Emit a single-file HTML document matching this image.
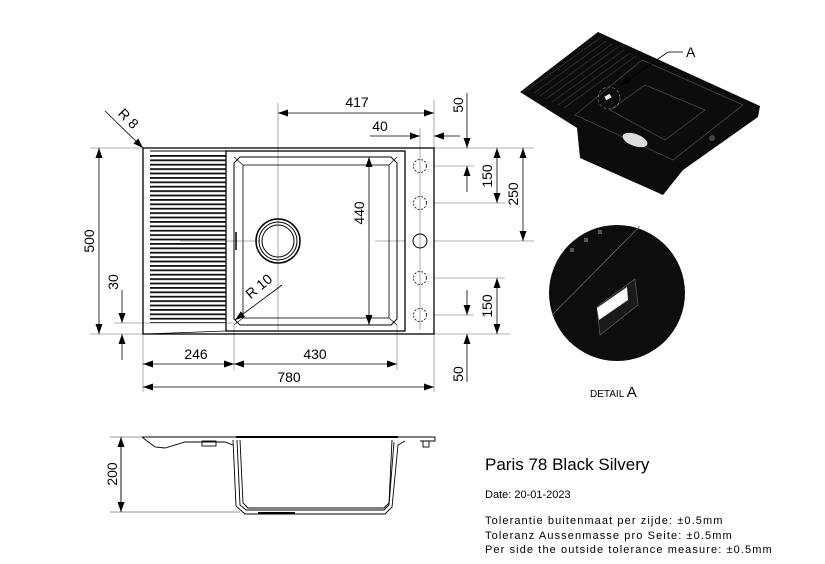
<!DOCTYPE html>
<html><head><meta charset="utf-8"><style>
html,body{margin:0;padding:0;background:#fff;}
svg{display:block;font-family:"Liberation Sans",sans-serif;}
</style></head><body>
<svg width="825" height="564" viewBox="0 0 825 564" xmlns="http://www.w3.org/2000/svg">
<defs>
<pattern id="gr" x="0" y="155" width="10" height="4.4" patternUnits="userSpaceOnUse">
<rect x="0" y="0" width="10" height="1.8" fill="#111"/>
</pattern>
<marker id="ar" viewBox="0 0 10 10" refX="10" refY="5" markerWidth="10" markerHeight="10" markerUnits="userSpaceOnUse" orient="auto-start-reverse">
<path d="M0,1.5 L10,5 L0,8.5 Z" fill="#000"/>
</marker>
</defs>

<g stroke="#999" stroke-width="0.8" fill="none">
<line x1="90" y1="148" x2="534" y2="148"/>
<line x1="90" y1="334" x2="510" y2="334"/>
<line x1="143" y1="334" x2="143" y2="392"/>
<line x1="434" y1="100" x2="434" y2="392"/>
<line x1="278" y1="103" x2="278" y2="330"/>
<line x1="234" y1="325" x2="234" y2="370"/>
<line x1="397" y1="325" x2="397" y2="370"/>
<line x1="420" y1="128" x2="420" y2="330"/>
<line x1="434" y1="203" x2="505" y2="203"/>
<line x1="434" y1="241" x2="534" y2="241"/>
<line x1="434" y1="278" x2="505" y2="278"/>
<line x1="434" y1="166" x2="474" y2="166"/>
<line x1="434" y1="315" x2="474" y2="315"/>
<line x1="114" y1="323" x2="234" y2="323"/>
<line x1="180" y1="241" x2="260" y2="241"/>
<line x1="375" y1="241" x2="405" y2="241"/>
</g>

<g fill="none" stroke="#000">
<rect x="143" y="148" width="291" height="186" stroke-width="1.3"/>
<rect x="150" y="155" width="76" height="168" fill="url(#gr)" stroke="none"/>
<line x1="226" y1="151" x2="226" y2="331" stroke-width="1"/>
<line x1="150" y1="151" x2="226" y2="151" stroke-width="1"/>
<line x1="145" y1="334" x2="226" y2="331" stroke-width="0.8"/>
<rect x="226" y="151" width="179" height="180" stroke-width="1.3"/>
<path d="M240,157 H391 L397,163 V319 L391,325 H240 L234,319 V163 Z" stroke-width="1"/>
<rect x="243" y="165" width="146" height="153" stroke-width="0.8"/>
<line x1="234" y1="157" x2="243" y2="165" stroke-width="0.6"/>
<line x1="397" y1="157" x2="389" y2="165" stroke-width="0.6"/>
<line x1="397" y1="325" x2="389" y2="318" stroke-width="0.6"/>
<line x1="234" y1="325" x2="243" y2="318" stroke-width="0.6"/>
<line x1="236" y1="232" x2="236" y2="250" stroke-width="1.5"/>
<circle cx="278" cy="241" r="22" stroke-width="1.5"/>
<circle cx="278" cy="241" r="19" stroke-width="1"/>
<circle cx="278" cy="241" r="16" stroke-width="1"/>
<circle cx="420" cy="241" r="7" stroke-width="1"/>
<g stroke-dasharray="2,1.5" stroke-width="0.8">
<circle cx="420" cy="166" r="6.5"/><circle cx="420" cy="203" r="6.5"/>
<circle cx="420" cy="278" r="6.5"/><circle cx="420" cy="315" r="6.5"/>
</g>
</g>

<g stroke="#000" stroke-width="0.8" fill="none">
<line x1="278" y1="113" x2="434" y2="113" marker-start="url(#ar)" marker-end="url(#ar)"/>
<line x1="370" y1="136" x2="420" y2="136" marker-end="url(#ar)"/>
<line x1="460" y1="136" x2="434" y2="136" marker-end="url(#ar)"/>
<line x1="467" y1="93" x2="467" y2="148" marker-end="url(#ar)"/>
<line x1="467" y1="192" x2="467" y2="166" marker-end="url(#ar)"/>
<line x1="497" y1="148" x2="497" y2="203" marker-start="url(#ar)" marker-end="url(#ar)"/>
<line x1="523" y1="148" x2="523" y2="241" marker-start="url(#ar)" marker-end="url(#ar)"/>
<line x1="99" y1="148" x2="99" y2="334" marker-start="url(#ar)" marker-end="url(#ar)"/>
<line x1="122" y1="290" x2="122" y2="323" marker-end="url(#ar)"/>
<line x1="122" y1="360" x2="122" y2="334" marker-end="url(#ar)"/>
<line x1="497" y1="278" x2="497" y2="334" marker-start="url(#ar)" marker-end="url(#ar)"/>
<line x1="467" y1="290" x2="467" y2="315" marker-end="url(#ar)"/>
<line x1="467" y1="382" x2="467" y2="334" marker-end="url(#ar)"/>
<line x1="143" y1="364" x2="234" y2="364" marker-start="url(#ar)" marker-end="url(#ar)"/>
<line x1="234" y1="364" x2="397" y2="364" marker-start="url(#ar)" marker-end="url(#ar)"/>
<line x1="143" y1="387" x2="434" y2="387" marker-start="url(#ar)" marker-end="url(#ar)"/>
<line x1="369" y1="157" x2="369" y2="325" marker-start="url(#ar)" marker-end="url(#ar)"/>
<line x1="105" y1="111" x2="143" y2="148" marker-end="url(#ar)"/>
<line x1="282" y1="285" x2="235" y2="320" marker-end="url(#ar)"/>
</g>

<g font-size="14" fill="#000" text-anchor="middle">
<text x="357" y="107">417</text>
<text x="380" y="131">40</text>
<text x="196" y="359">246</text>
<text x="315" y="359">430</text>
<text x="289" y="382">780</text>
<text transform="translate(463,105) rotate(-90)">50</text>
<text transform="translate(492,176) rotate(-90)">150</text>
<text transform="translate(518,194) rotate(-90)">250</text>
<text transform="translate(94,241) rotate(-90)">500</text>
<text transform="translate(118,282) rotate(-90)">30</text>
<text transform="translate(492,306) rotate(-90)">150</text>
<text transform="translate(463,374) rotate(-90)">50</text>
<text transform="translate(364,213) rotate(-90)">440</text>
<text transform="translate(125,122) rotate(45)">R 8</text>
<text transform="translate(262,290) rotate(-40)">R 10</text>
<text transform="translate(117,474) rotate(-90)">200</text>
</g>

<g fill="none" stroke="#000" stroke-width="0.9">
<line x1="110" y1="437" x2="240" y2="437" stroke="#999"/>
<line x1="110" y1="512" x2="240" y2="512" stroke="#999"/>
<line x1="121" y1="437" x2="121" y2="512" marker-start="url(#ar)" marker-end="url(#ar)"/>
<path d="M142,437 H435 V441 H420 M142,437 L147,441 L155,447 L165,448 L185,442 H225 L233,445"/>
<line x1="236" y1="437" x2="398" y2="437" stroke-width="2"/>
<path d="M233,440 L236,506 L245,514 H385 L392,507 L398,445 L405,441"/>
<path d="M237,440 L240,505 L246,510 H384 L389,505 L394,442"/>
<path d="M240,440 L243,503 L248,508 H384 L389,503 L392,440"/>
<rect x="202" y="441" width="14" height="5"/>
<rect x="423" y="441" width="6" height="6"/>
<line x1="258" y1="513" x2="295" y2="513" stroke-width="2"/>
</g>

<g>
<polygon points="520,92 598,32 760,106 758,117 683,170 663,195 580,158 577,128" fill="#0c0c0c"/>
<g stroke="#3a3a3a" stroke-width="0.7">
<line x1="528" y1="90" x2="600" y2="38"/><line x1="534" y1="93" x2="606" y2="41"/>
<line x1="540" y1="96" x2="612" y2="44"/><line x1="546" y1="99" x2="618" y2="47"/>
<line x1="552" y1="102" x2="624" y2="50"/><line x1="558" y1="105" x2="630" y2="53"/>
<line x1="564" y1="108" x2="636" y2="56"/>
</g>
<g stroke="#444" stroke-width="0.8" fill="none">
<polygon points="575,115 642,60 743,105 673,160"/>
<polygon points="610,110 645,85 705,110 665,140"/>
</g>
<ellipse cx="635" cy="140" rx="13" ry="6" fill="#ddd" transform="rotate(20 635 140)"/>
<circle cx="712" cy="138" r="3" fill="#444"/>
<rect x="605" y="95" width="6" height="4" fill="#eee" transform="rotate(-30 608 97)"/>
<circle cx="609" cy="98" r="11" fill="none" stroke="#888" stroke-width="0.6" stroke-dasharray="3,2"/>
<line x1="668" y1="52" x2="683" y2="52" stroke="#000" stroke-width="0.8"/>
<line x1="668" y1="52" x2="621" y2="85" stroke="#000" stroke-width="0.8" marker-end="url(#ar)"/>
<text x="686" y="57" font-size="14">A</text>
</g>

<circle cx="617" cy="293" r="68" fill="#0d0d0d"/>
<line x1="552" y1="315" x2="640" y2="226" stroke="#666" stroke-width="0.8"/>
<polygon points="597,307 635,279 638,305 600,335" fill="#1a1a1a" stroke="#555" stroke-width="0.8"/>
<polygon points="597,308 627,287 628,300 599,320" fill="#fff"/>
<g fill="#555"><rect x="570" y="248" width="4" height="4"/><rect x="584" y="238" width="4" height="4"/><rect x="598" y="230" width="4" height="4"/></g>
<text x="590" y="397" font-size="10">DETAIL <tspan font-size="15">A</tspan></text>

<text x="485" y="470" font-size="17">Paris 78 Black Silvery</text>
<text x="485" y="498" font-size="11">Date: 20-01-2023</text>
<g font-size="11" letter-spacing="1.1">
<text x="485" y="524">Tolerantie buitenmaat per zijde: ±0.5mm</text>
<text x="485" y="539">Toleranz Aussenmasse pro Seite: ±0.5mm</text>
<text x="485" y="553">Per side the outside tolerance measure: ±0.5mm</text>
</g>
</svg>
</body></html>
